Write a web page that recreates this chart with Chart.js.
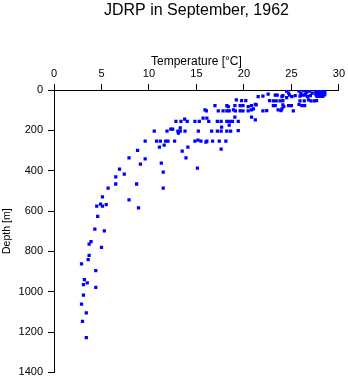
<!DOCTYPE html>
<html>
<head>
<meta charset="utf-8">
<script src="https://cdn.jsdelivr.net/npm/chart.js@4/dist/chart.umd.min.js"></script>
<style>
html,body{margin:0;padding:0;background:#fff;}
canvas{display:block;}
</style>
</head>
<body>
<canvas id="c" width="348" height="384"></canvas>
<script>
const chartTitle = "JDRP in September, 1962";
const xTitle = "Temperature [°C]";
const yTitle = "Depth [m]";
const xTicks = [0, 5, 10, 15, 20, 25, 30];
const yTicks = [0, 200, 400, 600, 800, 1000, 1200, 1400];

// Temperature [°C] of each observation
const temperature = [
  // deep
  4.3, 5.3, 3.9, 3.7, 5.0, 3.7, 3.6, 2.9, 4.4, 3.2, 3.5, 3.1, 4.4, 3.1, 2.9, 3.4, 3.0, 3.4,
  // mid
  4.6, 4.5, 4.9, 5.1, 5.5, 8.9, 7.9, 5.1, 5.7, 6.5, 8.7, 11.5, 6.5, 7.4, 11.5, 6.9, 9.1, 11.3,
  7.9, 9.6, 13.9, 8.8, 11.1, 11.6, 13.5, 14.1, 17.6, 15.1,
  // ~250 m
  9.6, 10.8, 11.2, 11.75, 12.0, 12.7, 14.84, 15.16, 15.47, 16.0, 16.1, 16.7, 17.4, 18.1,
  // ~200 m
  10.56, 11.9, 12.3, 12.5, 13.05, 13.3, 13.8, 13.3, 13.1, 15.2, 16.6, 17.2, 17.6, 18.2, 18.6, 19.4, 17.65, 18.45,
  // ~150 m
  12.84, 13.37, 13.76, 14.03, 14.84, 15.3, 15.7, 16.1, 16.3, 17.2, 17.6, 18.2, 18.5, 18.8, 19.4, 19.05, 20.8, 21.2,
  // ~100 m
  15.9, 16.05, 17.3, 17.8, 18.2, 18.45, 18.9, 19.1, 19.6, 19.9, 20.45, 20.8, 21.0, 22.0, 22.4, 23.6, 23.9, 24.0, 25.2,
  // ~75 m
  16.95, 18.2, 18.35, 19.05, 19.6, 19.9, 20.45, 20.8, 21.2, 21.3, 23.1, 23.3, 24.1, 24.2, 24.7, 25.0, 25.8, 26.1, 26.4,
  // ~50 m
  19.2, 19.75, 20.2, 22.7, 23.1, 23.4, 23.8, 24.1, 25.9, 26.35, 26.8, 27.05, 27.4, 27.65,
  // ~30 m
  21.5, 22.0, 22.55, 23.3, 23.5, 24.0, 24.1, 24.5, 25.05, 25.4, 26.1, 26.4, 24.5, 24.7, 24.8,
  // surface
  25.8, 26.0, 26.3, 26.6, 26.9, 27.2, 26.5, 27.0, 25.9, 26.7,
  27.6, 27.9, 28.2, 28.5, 27.6, 27.9, 28.2, 28.5, 27.6, 27.9, 28.2, 28.5, 27.6, 27.9, 28.2, 28.5, 27.7, 28.0, 28.3
];

// Depth [m] of each observation
const depth = [
  690, 698, 752, 764, 780, 820, 841, 862, 895, 940, 956, 965, 979, 1017, 1062, 1105, 1147, 1227,
  626, 576, 566, 576, 568, 584, 545, 530, 486, 466, 466, 487, 431, 417, 407, 392, 367, 362,
  337, 342, 337, 299, 283, 273, 303, 283, 293, 387,
  254, 254, 254, 254, 254, 254, 254, 248, 254, 258, 254, 254, 254, 254,
  204, 204, 194, 194, 204, 204, 204, 188, 214, 204, 204, 204, 204, 204, 204, 202, 184, 174,
  155, 155, 145, 155, 155, 155, 140, 140, 155, 155, 155, 155, 155, 155, 155, 135, 135, 148,
  99, 104, 104, 104, 104, 104, 99, 104, 104, 104, 104, 99, 94, 104, 102, 99, 102, 94, 104,
  77, 77, 82, 77, 77, 77, 82, 77, 71, 74, 77, 77, 74, 82, 77, 77, 71, 77, 77,
  49, 53, 53, 53, 54, 54, 54, 53, 54, 54, 49, 54, 54, 53,
  33, 30, 21, 25, 25, 33, 28, 38, 33, 28, 25, 25, 5, 15, 25,
  5, 15, 3, 10, 5, 15, 20, 28, 30, 33,
  3, 3, 3, 3, 10, 10, 10, 10, 17, 17, 17, 17, 24, 24, 24, 24, 31, 31, 31
];

const points = temperature.map((t, i) => ({x: t, y: depth[i]}));
const FONT = "'Liberation Sans', Arial, Helvetica, sans-serif";

new Chart(document.getElementById('c'), {
  type: 'scatter',
  data: {
    datasets: [{
      data: points,
      pointStyle: 'rect',
      pointRadius: 2.3,
      pointBackgroundColor: '#0000ff',
      pointBorderWidth: 0,
      pointBorderColor: '#0000ff'
    }]
  },
  options: {
    responsive: false,
    animation: false,
    devicePixelRatio: 1,
    layout: {padding: {left: 0, right: 9, top: 0, bottom: 10}},
    plugins: {
      legend: {display: false},
      tooltip: {enabled: false},
      title: {
        display: true,
        text: chartTitle,
        fullSize: false,
        color: '#000',
        font: {family: FONT, size: 16, weight: 'normal', lineHeight: 1.25},
        padding: {top: 1, bottom: 0}
      }
    },
    scales: {
      x: {
        type: 'linear',
        position: 'top',
        min: 0, max: 30,
        afterBuildTicks: s => { s.ticks = xTicks.map(v => ({value: v})); },
        afterFit: s => { s.height = 69; },
        grid: {drawOnChartArea: false, drawTicks: true, tickLength: 6, color: '#000', lineWidth: 1},
        border: {display: true, color: '#000', width: 1},
        ticks: {color: '#000', padding: 3, maxRotation: 0, autoSkip: false,
                callback: v => String(v), font: {family: FONT, size: 11}},
        title: {display: true, text: xTitle, color: '#000', padding: {top: 33, bottom: 0},
                font: {family: FONT, size: 12, lineHeight: 1.2}}
      },
      y: {
        type: 'linear',
        position: 'left',
        reverse: true,
        min: 0, max: 1400,
        afterBuildTicks: s => { s.ticks = yTicks.map(v => ({value: v})); },
        afterFit: s => { s.width = 54; },
        grid: {drawOnChartArea: false, drawTicks: true, tickLength: 6, color: '#000', lineWidth: 1},
        border: {display: true, color: '#000', width: 1},
        ticks: {color: '#000', padding: 5, autoSkip: false,
                callback: v => String(v), font: {family: FONT, size: 11}},
        title: {display: true, text: yTitle, color: '#000', padding: {top: 1, bottom: 0},
                font: {family: FONT, size: 10.5, lineHeight: 1.2}}
      }
    }
  }
});
</script>
</body>
</html>
